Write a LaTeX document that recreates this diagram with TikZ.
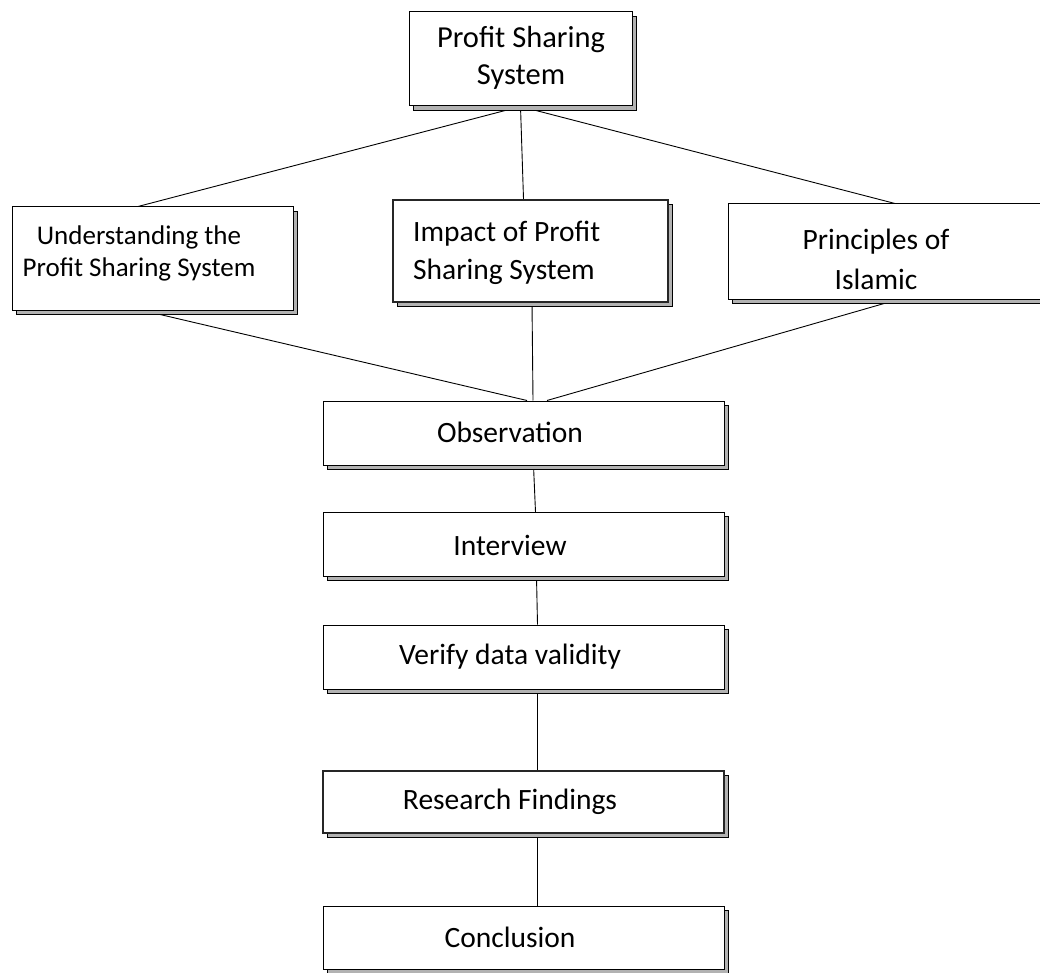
\documentclass[tikz,border=0pt]{standalone}
\usepackage{fontspec}
\setmainfont{Carlito}
\usetikzlibrary{shadows,backgrounds}
\begin{document}
\begin{tikzpicture}[x=1pt,y=-1pt,
  box/.style={draw=black, line width=1pt, fill=white, inner sep=0pt,
    general shadow={shadow xshift=4pt, shadow yshift=-4pt, fill=black!30, draw=black, line width=0.8pt}},
  dbl/.style={line width=2.2pt, draw=black!85},
  txt/.style={inner sep=0pt, align=center, font=\fontsize{29.5}{34}\selectfont},
  link/.style={draw=black, line width=0.9pt}]
\useasboundingbox (0,0) rectangle (1040,973);
\clip (0,0) rectangle (1040,973);
% boxes
\node[box, minimum width=223pt, minimum height=94pt] (top) at (520.5,59) {};
\node[box, minimum width=281pt, minimum height=103pt] (lft) at (152.5,258.5) {};
\node[box, dbl, minimum width=275pt, minimum height=102pt] (mid) at (530.5,251) {};
\node[box, minimum width=324pt, minimum height=95pt] (rgt) at (890,251.5) {};
\node[box, minimum width=401pt, minimum height=64pt] (obs) at (523.5,433) {};
\node[box, minimum width=401pt, minimum height=64pt] (int) at (523.5,544.5) {};
\node[box, minimum width=401pt, minimum height=64pt] (ver) at (523.5,657) {};
\node[box, dbl, minimum width=401pt, minimum height=62pt] (res) at (523.5,802) {};
\node[box, minimum width=401pt, minimum height=63pt] (con) at (523.5,937.5) {};
% texts
\node[txt, font=\fontsize{30.5}{37}\selectfont] (topt) at (521,58) {Profit Sharing\\System};
\node[txt, font=\fontsize{27}{32}\selectfont] (lftt) at (139,253) {Understanding the\\Profit Sharing System};
\node[txt, anchor=west, align=left, font=\fontsize{29.5}{38}\selectfont] (midt) at (413,253) {Impact of Profit\\Sharing System};
\node[txt, font=\fontsize{29.5}{40}\selectfont] (rgtt) at (876,259) {Principles of\\Islamic};
\node[txt] (obst) at (510,432) {Observation};
\node[txt] (intt) at (510,545) {Interview};
\node[txt] (vert) at (510,657) {Verify data validity};
\node[txt] (rest) at (510,802) {Research Findings};
\node[txt] (cont) at (510,937) {Conclusion};
% connectors
\begin{scope}[on background layer]
\draw[link] (top.south) -- ([xshift=-14.5pt]lft.north);
\draw[link] (top.south) -- ([xshift=-7pt]mid.north);
\draw[link] (top.south) -- ([xshift=5pt]rgt.north);
\draw[link] ([xshift=-9.5pt]lft.south) -- ([xshift=3.5pt]obs.north);
\draw[link] ([xshift=1.5pt]mid.south) -- ([xshift=9.5pt]obs.north);
\draw[link] ([xshift=8pt]rgt.south) -- ([xshift=23.5pt]obs.north);
\draw[link] ([xshift=10pt]obs.south) -- ([xshift=12pt]int.north);
\draw[link] ([xshift=13pt]int.south) -- ([xshift=14pt]ver.north);
\draw[link] ([xshift=14pt]ver.south) -- ([xshift=14pt]res.north);
\draw[link] ([xshift=14pt]res.south) -- ([xshift=14pt]con.north);
\end{scope}
\end{tikzpicture}
\end{document}
